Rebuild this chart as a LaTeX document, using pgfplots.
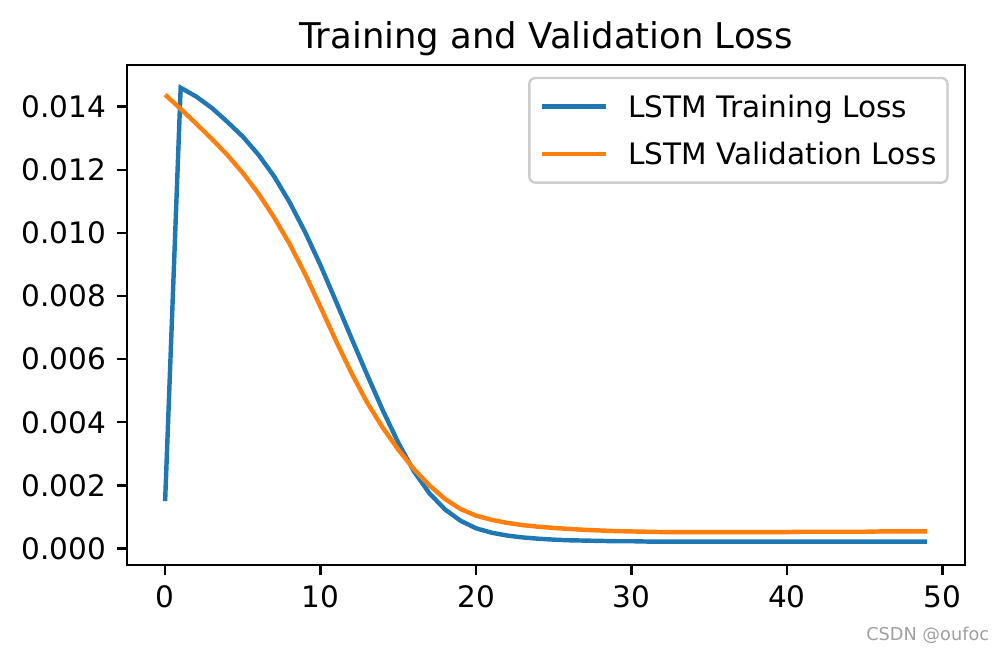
\documentclass[border=0pt]{standalone}
\usepackage{fontspec}
\setmainfont{DejaVu Sans}
\usepackage{pgfplots}
\usepackage{pgfplotstable}
\pgfplotsset{compat=1.18}
\definecolor{tabblue}{HTML}{1F77B4}
\definecolor{taborange}{HTML}{FF7F0E}
\definecolor{legframe}{HTML}{CCCCCC}

\pgfplotstableread{
e train val
0 0.00150 0.01438
1 0.01460 0.01393
2 0.01432 0.01346
3 0.01396 0.01298
4 0.01352 0.01247
5 0.01305 0.01190
6 0.01248 0.01125
7 0.01180 0.01050
8 0.01098 0.00966
9 0.01003 0.00870
10 0.00897 0.00765
11 0.00782 0.00657
12 0.00665 0.00555
13 0.00550 0.00462
14 0.00438 0.00383
15 0.00335 0.00313
16 0.00245 0.00252
17 0.00175 0.00200
18 0.00124 0.00157
19 0.00088 0.00125
20 0.00064 0.00104
21 0.00050 0.00091
22 0.00041 0.00081
23 0.00035 0.00074
24 0.00031 0.00069
25 0.00028 0.00065
26 0.00026 0.00062
27 0.00025 0.00059
28 0.00024 0.00057
29 0.00023 0.00055
30 0.00023 0.00054
31 0.00022 0.00053
32 0.00022 0.00052
33 0.00022 0.00052
34 0.00022 0.00052
35 0.00022 0.00052
36 0.00022 0.00052
37 0.00022 0.00052
38 0.00022 0.00052
39 0.00022 0.00052
40 0.00022 0.00052
41 0.00022 0.00053
42 0.00022 0.00053
43 0.00022 0.00053
44 0.00022 0.00053
45 0.00022 0.00053
46 0.00022 0.00054
47 0.00022 0.00054
48 0.00022 0.00054
49 0.00022 0.00054
}\losstable

\begin{document}
\begin{tikzpicture}
\begin{axis}[
  scale only axis,
  width=283.6pt, height=169.2pt,
  xmin=-2.45, xmax=51.45,
  ymin=-0.00052, ymax=0.01532,
  xtick={0,10,20,30,40,50},
  ytick={0,0.002,0.004,0.006,0.008,0.010,0.012,0.014},
  scaled y ticks=false,
  yticklabel style={/pgf/number format/fixed, /pgf/number format/fixed zerofill, /pgf/number format/precision=3, anchor=east, xshift=-3.3pt},
  /pgf/number format/assume math mode=true,
  tick pos=left,
  tick align=outside,
  major tick length=3.5pt,
  tick style={line width=0.8pt, black},
  axis line style={line width=0.8pt, black},
  ticklabel style={font=\fontsize{10}{12}\selectfont, inner sep=0pt},
  xticklabel style={anchor=north, yshift=-3.3pt},
  title={Training and Validation Loss},
  title style={at={(0.5,1)}, anchor=south, yshift=-3pt, inner sep=0pt, font=\fontsize{12}{14}\selectfont},
  legend style={at={(1,1)}, anchor=north east, xshift=-5.5pt, yshift=-4.0pt,
    draw=legframe, line width=0.8pt, rounded corners=2pt, fill=white,
    font=\fontsize{10}{12}\selectfont,
    inner xsep=3.7pt, inner ysep=4.6pt, row sep=6.2pt, column sep=0pt,
    nodes={inner sep=0pt, text height=8.6pt, text depth=1.4pt}},
  legend cell align=left,
  legend image code/.code={\draw[#1, line width=1.5pt] (0pt,0pt) -- (21.5pt,0pt);},
  legend style={/tikz/every odd column/.append style={column sep=6.8pt}},
]
\addplot[tabblue, line width=1.5pt] table[x=e, y=train] {\losstable};
\addlegendentry{LSTM Training Loss}
\addplot[taborange, line width=1.5pt] table[x=e, y=val] {\losstable};
\addlegendentry{LSTM Validation Loss}
\end{axis}
\node[anchor=base east, font=\fontsize{6}{7}\selectfont, text=gray!75, inner sep=0pt] at (292pt,-25.5pt) {CSDN @oufoc};
\pgfresetboundingbox
\path[use as bounding box] (-43pt,-29.4pt) rectangle (294.8pt,191.2pt);
\end{tikzpicture}
\end{document}
